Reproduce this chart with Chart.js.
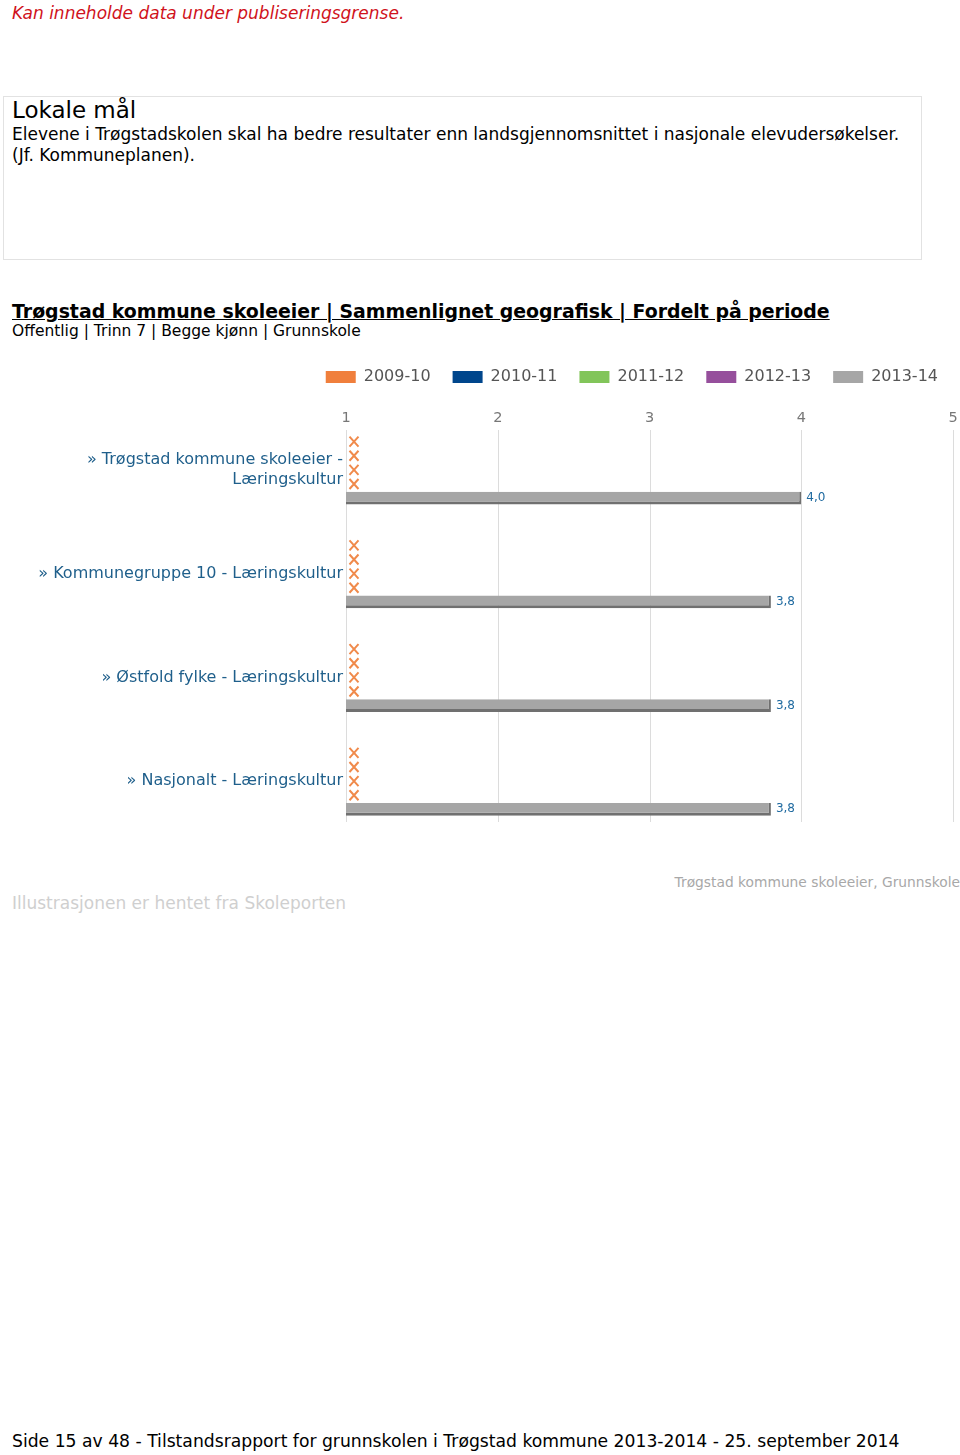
<!DOCTYPE html>
<html lang="no">
<head>
<meta charset="utf-8">
<title>Læringskultur - Trøgstad kommune skoleeier</title>
<script src="https://cdn.jsdelivr.net/npm/chart.js@4.4.1/dist/chart.umd.min.js"></script>
<style>
    body { margin: 0; width: 960px; height: 1455px; position: relative; background: #fff; font-family: "DejaVu Sans", Verdana, sans-serif; color: #000; }
    .abs { position: absolute; white-space: nowrap; }
    .warn { left: 12px; top: 3px; font-size: 17px; font-style: italic; color: #d0121b; }
    .goal-box { left: 3px; top: 96px; width: 917px; height: 162px; border: 1px solid #e2e2e2; }
    .goal-title { left: 12px; top: 97px; font-size: 23px; }
    .goal-text { left: 12px; top: 124px; font-size: 17px; line-height: 21px; }
    .chart-title { left: 12px; top: 300px; font-size: 18.9px; font-weight: bold; text-decoration: underline; }
    .chart-sub { left: 12px; top: 322px; font-size: 15.5px; }
    .chart-wrap { left: 0; top: 337px; width: 960px; height: 505px; }
    .source { left: 12px; top: 893px; font-size: 17px; color: #cfcfcf; }
    .owner { right: 0; top: 874px; font-size: 13.8px; color: #a8a8a8; }
    .page-foot { left: 12px; top: 1431px; font-size: 17.2px; }
</style>
</head>
<body>
<div class="abs warn">Kan inneholde data under publiseringsgrense.</div>
<div class="abs goal-box"></div>
<div class="abs goal-title">Lokale mål</div>
<div class="abs goal-text">Elevene i Trøgstadskolen skal ha bedre resultater enn landsgjennomsnittet i nasjonale elevudersøkelser.<br>(Jf. Kommuneplanen).</div>
<div class="abs chart-title">Trøgstad kommune skoleeier | Sammenlignet geografisk | Fordelt på periode</div>
<div class="abs chart-sub">Offentlig | Trinn 7 | Begge kjønn | Grunnskole</div>
<div class="abs chart-wrap"><canvas id="chartLaering" width="960" height="505"></canvas></div>
<div class="abs owner">Trøgstad kommune skoleeier, Grunnskole</div>
<div class="abs source">Illustrasjonen er hentet fra Skoleporten</div>
<div class="abs page-foot">Side 15 av 48 - Tilstandsrapport for grunnskolen i Trøgstad kommune 2013-2014 - 25. september 2014</div>

<script>
const categories = [
    ['» Trøgstad kommune skoleeier -', 'Læringskultur'],
    '» Kommunegruppe 10 - Læringskultur',
    '» Østfold fylke - Læringskultur',
    '» Nasjonalt - Læringskultur'
];
const periods = ['2009-10', '2010-11', '2011-12', '2012-13', '2013-14'];
const periodColors = ['#f07f3c', '#00468c', '#82c55a', '#964f9c', '#a6a6a6'];

// null = ingen data (vises som kryss)
const values2009 = [null, null, null, null];
const values2010 = [null, null, null, null];
const values2011 = [null, null, null, null];
const values2012 = [null, null, null, null];
const values2013 = [4.0, 3.8, 3.8, 3.8];
const seriesValues = [values2009, values2010, values2011, values2012, values2013];

const scaleMin = 1;
const scaleMax = 5;

const FONT = '"DejaVu Sans", Verdana, sans-serif';

// vertical grid lines, kept a bit shorter than the plot area
const gridPlugin = {
    id: 'shortGrid',
    beforeDatasetsDraw(chart) {
        const { ctx, chartArea, scales } = chart;
        ctx.save();
        ctx.strokeStyle = '#dcdcdc';
        ctx.lineWidth = 1;
        scales.x.ticks.forEach(t => {
            const x = Math.round(scales.x.getPixelForValue(t.value)) + 0.5;
            ctx.beginPath();
            ctx.moveTo(x, chartArea.top + 12);
            ctx.lineTo(x, chartArea.bottom - 11);
            ctx.stroke();
        });
        ctx.restore();
    }
};

// orange crosses where a period has no value, plus value labels at the bar ends
const markPlugin = {
    id: 'marks',
    afterDatasetsDraw(chart) {
        const { ctx, scales } = chart;
        ctx.save();
        chart.data.datasets.forEach((ds, di) => {
            const meta = chart.getDatasetMeta(di);
            meta.data.forEach((bar, i) => {
                const v = ds.data[i];
                if (v === null) {
                    const cx = scales.x.getPixelForValue(scaleMin) + 8;
                    const cy = bar.y;
                    ctx.strokeStyle = '#f08a4b';
                    ctx.lineWidth = 2;
                    ctx.beginPath();
                    ctx.moveTo(cx - 4.5, cy - 5);
                    ctx.lineTo(cx + 4.5, cy + 5);
                    ctx.moveTo(cx + 4.5, cy - 5);
                    ctx.lineTo(cx - 4.5, cy + 5);
                    ctx.stroke();
                } else {
                    ctx.fillStyle = '#1f6aa0';
                    ctx.font = '12px ' + FONT;
                    ctx.textBaseline = 'middle';
                    ctx.textAlign = 'left';
                    ctx.fillText(v.toFixed(1).replace('.', ','), bar.x + 5, bar.y);
                }
            });
        });
        ctx.restore();
    }
};

const datasets = periods.map((p, k) => ({
    label: p,
    data: seriesValues[k],
    backgroundColor: periodColors[k],
    borderColor: '#707070',
    borderWidth: { top: 0, left: 0, right: 2, bottom: 3 },
    borderSkipped: false,
    categoryPercentage: 0.68,
    barPercentage: 0.9
}));

const chart = new Chart('chartLaering', {
    type: 'bar',
    data: { labels: categories, datasets: datasets },
    options: {
        responsive: false,
        animation: false,
        indexAxis: 'y',
        layout: { padding: { top: 10, right: 0, bottom: 9, left: 0 } },
        plugins: {
            legend: {
                position: 'top',
                align: 'end',
                labels: {
                    boxWidth: 30,
                    boxHeight: 12,
                    padding: 22,
                    color: '#555',
                    font: { family: FONT, size: 16 },
                    generateLabels(c) {
                        return Chart.defaults.plugins.legend.labels.generateLabels(c)
                            .map(l => Object.assign(l, { lineWidth: 0, strokeStyle: 'transparent' }));
                    }
                }
            },
            tooltip: { enabled: false }
        },
        scales: {
            x: {
                position: 'top',
                min: scaleMin,
                max: scaleMax,
                ticks: {
                    stepSize: 1,
                    mirror: true,
                    padding: -8,
                    color: '#777',
                    font: { family: FONT, size: 14.5 }
                },
                grid: { display: false, drawTicks: false },
                border: { display: false },
                afterFit(scale) {
                    scale.height = 23;
                    scale.paddingLeft = 0;
                    scale.paddingRight = 7;
                }
            },
            y: {
                grid: { display: false, drawTicks: false },
                border: { display: false },
                ticks: {
                    color: '#1f5f8b',
                    padding: 3,
                    font: { family: FONT, size: 16, lineHeight: 1.2 }
                },
                afterFit(scale) {
                    scale.width = 346;
                    scale.paddingTop = 0;
                    scale.paddingBottom = 0;
                }
            }
        }
    },
    plugins: [gridPlugin, markPlugin]
});
</script>
</body>
</html>
